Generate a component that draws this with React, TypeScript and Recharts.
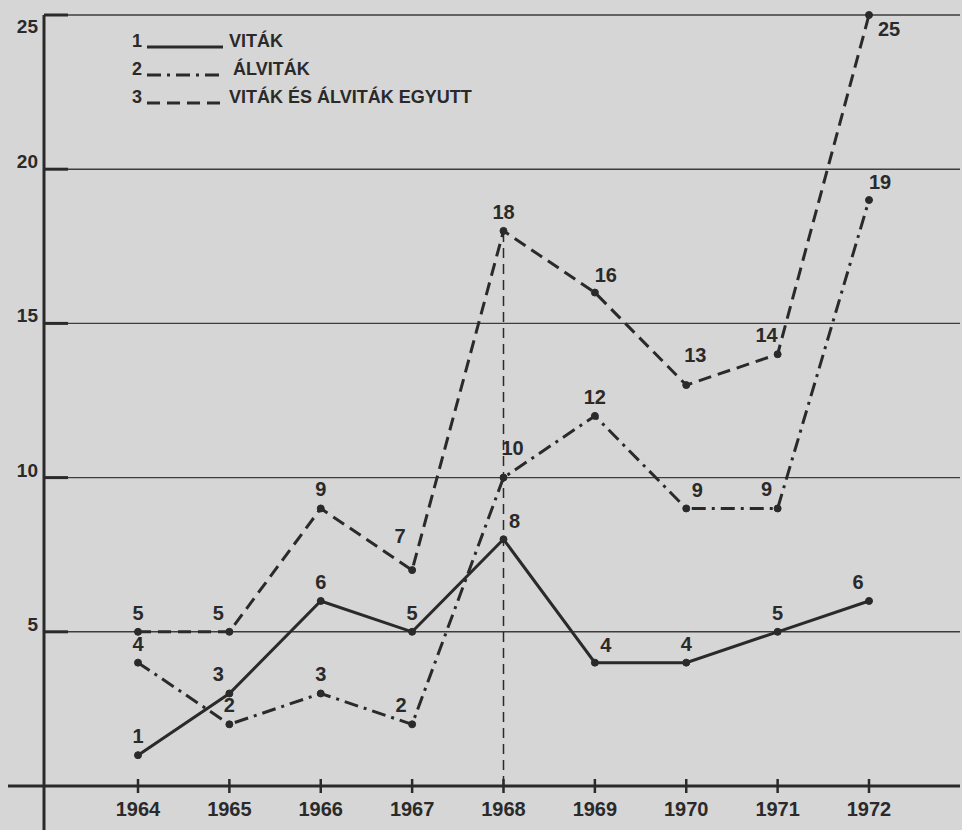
import React from 'react';
import { LineChart, Line, XAxis, YAxis, CartesianGrid, ReferenceLine, LabelList, Legend } from 'recharts';

const YEARS = [1964, 1965, 1966, 1967, 1968, 1969, 1970, 1971, 1972];
const VITAK = [1, 3, 6, 5, 8, 4, 4, 5, 6];
const ALVITAK = [4, 2, 3, 2, 10, 12, 9, 9, 19];
const EGYUTT = [5, 5, 9, 7, 18, 16, 13, 14, 25];
const Y_TICKS = [0, 5, 10, 15, 20, 25];
const LEGEND_LABELS = ['VITÁK', 'ÁLVITÁK', 'VITÁK ÉS ÁLVITÁK EGYUTT'];
const MARKER_INDEX = 4; // 1968

// label placement keywords (which side of the point the value label sits)
const VITAK_LABEL_POS = ['n', 'nw', 'n', 'n', 'ne', 'ne', 'n', 'n', 'nw'];
const ALVITAK_LABEL_POS = ['n', 'n', 'n', 'nw', 'nne', 'n', 'ne', 'nw', 'ne'];
const EGYUTT_LABEL_POS = ['n', 'nw', 'n', 'nnw', 'n', 'ne', 'nne', 'nw', 'se'];

const DATA = YEARS.map((year, i) => ({
  year,
  vitak: VITAK[i],
  alvitak: ALVITAK[i],
  egyutt: EGYUTT[i],
}));

const INK = '#2a2a2a';
const GRID = '#3c3c3c';
const BG = '#d6d6d6';
const FONT = '"Liberation Sans", Arial, sans-serif';

const OFFSETS: Record<string, [number, number]> = {
  n: [0, -19],
  nw: [-11, -19],
  ne: [11, -18],
  nnw: [-12, -34],
  nne: [9, -30],
  se: [20, 14],
};

const makeLabel = (positions: string[]) => (props: any) => {
  const { x, y, value, index } = props;
  const [dx, dy] = OFFSETS[positions[index]] || OFFSETS.n;
  return (
    <text
      x={x + dx}
      y={y + dy + 7}
      textAnchor="middle"
      fontFamily={FONT}
      fontWeight={700}
      fontSize={20}
      fill={INK}
    >
      {value}
    </text>
  );
};

const YTick = (props: any) => {
  const { x, y, payload } = props;
  const v = payload.value;
  if (v === 0) {
    return (
      <g>
        <line x1={x - 36} y1={y} x2={x} y2={y} stroke={INK} strokeWidth={3} />
        <line x1={x} y1={y} x2={x} y2={y + 44} stroke={INK} strokeWidth={3} />
      </g>
    );
  }
  return (
    <g>
      <line x1={x} y1={y} x2={x + 24} y2={y} stroke={INK} strokeWidth={3} />
      <text
        x={x - 6}
        y={v === 25 ? y + 18 : y - 1}
        textAnchor="end"
        fontFamily={FONT}
        fontWeight={700}
        fontSize={19}
        fill={INK}
      >
        {v}
      </text>
    </g>
  );
};

const XTick = (props: any) => {
  const { x, y, payload } = props;
  return (
    <g>
      <line x1={x} y1={y - 7} x2={x} y2={y + 7} stroke={INK} strokeWidth={2.5} />
      <text
        x={x}
        y={y + 30}
        textAnchor="middle"
        fontFamily={FONT}
        fontWeight={700}
        fontSize={20}
        fill={INK}
      >
        {payload.value}
      </text>
    </g>
  );
};

const LEGEND_STYLES = [
  { dash: undefined as string | undefined },
  { dash: '14 6 3 6' },
  { dash: '13 7' },
];

const CustomLegend = () => (
  <svg width={380} height={90} style={{ display: 'block' }}>
    {LEGEND_LABELS.map((label, i) => {
      const base = 17 + 28 * i;
      return (
        <g key={label}>
          <text x={4} y={base} fontFamily={FONT} fontWeight={700} fontSize={18} fill={INK}>
            {i + 1}
          </text>
          <line
            x1={19}
            y1={base}
            x2={95}
            y2={base}
            stroke={INK}
            strokeWidth={3}
            strokeDasharray={LEGEND_STYLES[i].dash}
          />
          <text
            x={i === 1 ? 105 : 101}
            y={base}
            fontFamily={FONT}
            fontWeight={700}
            fontSize={18}
            fill={INK}
          >
            {label}
          </text>
        </g>
      );
    })}
  </svg>
);

export default function App() {
  return (
    <div style={{ position: 'absolute', left: 0, top: 0, width: 962, height: 830, background: BG }}>
      <LineChart
        width={962}
        height={830}
        data={DATA}
        margin={{ top: 15, right: 2, bottom: 0, left: 0 }}
      >
        <CartesianGrid horizontal vertical={false} stroke={GRID} strokeWidth={1.4} />
        <XAxis
          dataKey="year"
          type="number"
          domain={[YEARS[0], YEARS[YEARS.length - 1]]}
          ticks={YEARS}
          interval={0}
          padding={{ left: 94, right: 91 }}
          height={44}
          tickSize={0}
          tickMargin={0}
          tickLine={false}
          axisLine={{ stroke: INK, strokeWidth: 3 }}
          tick={<XTick />}
        />
        <YAxis
          type="number"
          domain={[0, 25]}
          ticks={Y_TICKS}
          interval={0}
          width={44}
          tickSize={0}
          tickMargin={0}
          tickLine={false}
          axisLine={{ stroke: INK, strokeWidth: 3 }}
          tick={<YTick />}
        />
        <Legend
          layout="horizontal"
          verticalAlign="middle"
          align="center"
          wrapperStyle={{ left: 128, top: 30, width: 380, height: 90 }}
          content={() => <CustomLegend />}
        />
        <ReferenceLine
          segment={[
            { x: YEARS[MARKER_INDEX], y: 0 },
            { x: YEARS[MARKER_INDEX], y: EGYUTT[MARKER_INDEX] },
          ]}
          stroke={INK}
          strokeWidth={1.5}
          strokeDasharray="10 6"
          ifOverflow="visible"
        />
        <Line
          dataKey="egyutt"
          name={LEGEND_LABELS[2]}
          type="linear"
          stroke={INK}
          strokeWidth={3}
          strokeDasharray="13 7"
          dot={{ r: 3.5, fill: INK, stroke: INK, strokeWidth: 1, strokeDasharray: '' }}
          isAnimationActive={false}
        >
          <LabelList dataKey="egyutt" content={makeLabel(EGYUTT_LABEL_POS)} />
        </Line>
        <Line
          dataKey="alvitak"
          name={LEGEND_LABELS[1]}
          type="linear"
          stroke={INK}
          strokeWidth={3}
          strokeDasharray="14 6 3 6"
          dot={{ r: 3.5, fill: INK, stroke: INK, strokeWidth: 1, strokeDasharray: '' }}
          isAnimationActive={false}
        >
          <LabelList dataKey="alvitak" content={makeLabel(ALVITAK_LABEL_POS)} />
        </Line>
        <Line
          dataKey="vitak"
          name={LEGEND_LABELS[0]}
          type="linear"
          stroke={INK}
          strokeWidth={3}
          dot={{ r: 3.5, fill: INK, stroke: INK, strokeWidth: 1 }}
          isAnimationActive={false}
        >
          <LabelList dataKey="vitak" content={makeLabel(VITAK_LABEL_POS)} />
        </Line>
      </LineChart>
    </div>
  );
}
